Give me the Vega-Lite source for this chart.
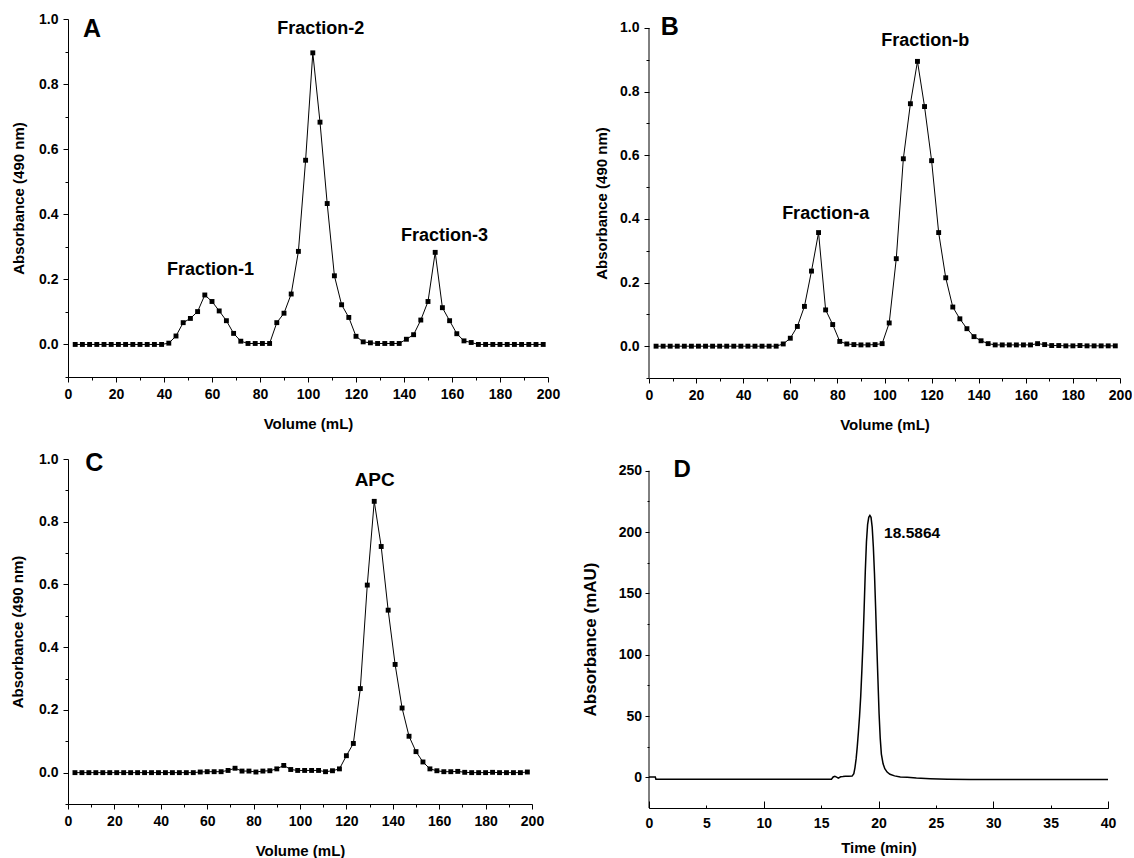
{
  "$schema": "https://vega.github.io/schema/vega-lite/v6.json",
  "background": "white",
  "padding": {"left": 10, "top": 12, "right": 0, "bottom": 0},
  "config": {
    "view": {"stroke": null},
    "font": "Liberation Sans",
    "text": {"font": "Liberation Sans", "fontWeight": "bold", "color": "black"},
    "axis": {
      "labelFont": "Liberation Sans", "labelFontWeight": "bold", "labelFontSize": 14, "labelColor": "black",
      "titleFont": "Liberation Sans", "titleFontWeight": "bold", "titleColor": "black",
      "domainColor": "black", "tickColor": "black", "grid": false, "domainWidth": 1, "tickWidth": 1,
      "labelFlush": false, "labelOverlap": false, "labelBound": false
    }
  },
  "bounds": "flush",
  "columns": 2,
  "spacing": {"row": 81, "column": 101},
  "concat": [
    {
      "width": 480, "height": 358,
      "resolve": {"axis": {"x": "independent", "y": "independent"}},
      "layer": [
        {
          "data": {"values": [
            {"vol":3,"abs":0},{"vol":6,"abs":0},{"vol":9,"abs":0},{"vol":12,"abs":0},{"vol":15,"abs":0},{"vol":18,"abs":0},{"vol":21,"abs":0},{"vol":24,"abs":0},{"vol":27,"abs":0},{"vol":30,"abs":0},{"vol":33,"abs":0},{"vol":36,"abs":0},{"vol":39,"abs":0},
            {"vol":42,"abs":0.004},{"vol":45,"abs":0.026},{"vol":48,"abs":0.067},{"vol":51,"abs":0.080},{"vol":54,"abs":0.101},{"vol":57,"abs":0.152},{"vol":60,"abs":0.132},{"vol":63,"abs":0.103},{"vol":66,"abs":0.073},{"vol":69,"abs":0.034},{"vol":72,"abs":0.010},{"vol":75,"abs":0.003},{"vol":78,"abs":0.003},{"vol":81,"abs":0.003},{"vol":84,"abs":0.003},
            {"vol":87,"abs":0.067},{"vol":90,"abs":0.096},{"vol":93,"abs":0.155},{"vol":96,"abs":0.286},{"vol":99,"abs":0.566},{"vol":102,"abs":0.896},{"vol":105,"abs":0.683},{"vol":108,"abs":0.433},{"vol":111,"abs":0.211},{"vol":114,"abs":0.122},{"vol":117,"abs":0.083},{"vol":120,"abs":0.025},{"vol":123,"abs":0.008},
            {"vol":126,"abs":0.005},{"vol":129,"abs":0.003},{"vol":132,"abs":0.003},{"vol":135,"abs":0.003},{"vol":138,"abs":0.003},{"vol":141,"abs":0.016},{"vol":144,"abs":0.030},{"vol":147,"abs":0.075},{"vol":150,"abs":0.132},{"vol":153,"abs":0.283},{"vol":156,"abs":0.113},{"vol":159,"abs":0.073},{"vol":162,"abs":0.033},{"vol":165,"abs":0.011},{"vol":168,"abs":0.006},
            {"vol":171,"abs":0},{"vol":174,"abs":0},{"vol":177,"abs":0},{"vol":180,"abs":0},{"vol":183,"abs":0},{"vol":186,"abs":0},{"vol":189,"abs":0},{"vol":192,"abs":0},{"vol":195,"abs":0},{"vol":198,"abs":0}
          ]},
          "mark": {"type": "line", "color": "black", "strokeWidth": 1, "point": {"shape": "square", "filled": true, "size": 24, "color": "black"}},
          "encoding": {
            "x": {"field": "vol", "type": "quantitative", "scale": {"domain": [0, 200], "nice": false, "zero": false},
                  "axis": {"orient": "bottom", "values": [0,20,40,60,80,100,120,140,160,180,200], "tickSize": 5, "labelPadding": 5, "title": "Volume (mL)", "titleFontSize": 15, "titlePadding": 15}},
            "y": {"field": "abs", "type": "quantitative", "scale": {"domain": [-0.1, 1.0], "nice": false, "zero": false},
                  "axis": {"orient": "left", "values": [0,0.2,0.4,0.6,0.8,1.0], "format": ".1f", "tickSize": 5, "labelPadding": 5, "title": "Absorbance (490 nm)", "titleFontSize": 15, "titlePadding": 12}}
          }
        },
        {
          "data": {"values": [{"x": 10, "y": 0.969, "t": "A"}]},
          "mark": {"type": "text", "fontSize": 25, "align": "center", "baseline": "middle"},
          "encoding": {
            "x": {"field": "x", "type": "quantitative", "scale": {"domain": [0, 200], "nice": false, "zero": false},
                  "axis": {"orient": "bottom", "values": [10,30,50,70,90,110,130,150,170,190], "tickSize": 3, "labels": false, "domain": false, "title": null}},
            "y": {"field": "y", "type": "quantitative", "scale": {"domain": [-0.1, 1.0], "nice": false, "zero": false},
                  "axis": {"orient": "left", "values": [-0.1,0.1,0.3,0.5,0.7,0.9], "tickSize": 3, "labels": false, "domain": false, "title": null}},
            "text": {"field": "t"}
          }
        },
        {
          "data": {"values": [{"x": 59.4, "y": 0.228, "t": "Fraction-1"}, {"x": 105.3, "y": 0.970, "t": "Fraction-2"}, {"x": 156.9, "y": 0.333, "t": "Fraction-3"}]},
          "mark": {"type": "text", "fontSize": 18, "align": "center", "baseline": "middle"},
          "encoding": {
            "x": {"field": "x", "type": "quantitative", "axis": null},
            "y": {"field": "y", "type": "quantitative", "axis": null},
            "text": {"field": "t"}
          }
        }
      ]
    },
    {
      "width": 471, "height": 359,
      "resolve": {"axis": {"x": "independent", "y": "independent"}},
      "layer": [
        {
          "data": {"values": [
            {"vol":3,"abs":0},{"vol":6,"abs":0},{"vol":9,"abs":0},{"vol":12,"abs":0},{"vol":15,"abs":0},{"vol":18,"abs":0},{"vol":21,"abs":0},{"vol":24,"abs":0},{"vol":27,"abs":0},{"vol":30,"abs":0},{"vol":33,"abs":0},{"vol":36,"abs":0},{"vol":39,"abs":0},{"vol":42,"abs":0},{"vol":45,"abs":0},{"vol":48,"abs":0},{"vol":51,"abs":0},{"vol":54,"abs":0},
            {"vol":57,"abs":0.007},{"vol":60,"abs":0.025},{"vol":63,"abs":0.062},{"vol":66,"abs":0.125},{"vol":69,"abs":0.236},{"vol":72,"abs":0.357},{"vol":75,"abs":0.114},{"vol":78,"abs":0.068},{"vol":81,"abs":0.015},{"vol":84,"abs":0.007},{"vol":87,"abs":0.005},{"vol":90,"abs":0.004},{"vol":93,"abs":0.004},{"vol":96,"abs":0.005},{"vol":99,"abs":0.008},
            {"vol":102,"abs":0.073},{"vol":105,"abs":0.275},{"vol":108,"abs":0.589},{"vol":111,"abs":0.762},{"vol":114,"abs":0.895},{"vol":117,"abs":0.753},{"vol":120,"abs":0.583},{"vol":123,"abs":0.357},{"vol":126,"abs":0.215},{"vol":129,"abs":0.123},{"vol":132,"abs":0.086},{"vol":135,"abs":0.055},{"vol":138,"abs":0.030},{"vol":141,"abs":0.017},{"vol":144,"abs":0.008},
            {"vol":147,"abs":0.004},{"vol":150,"abs":0.004},{"vol":153,"abs":0.004},{"vol":156,"abs":0.004},{"vol":159,"abs":0.004},{"vol":162,"abs":0.004},{"vol":165,"abs":0.008},{"vol":168,"abs":0.005},{"vol":171,"abs":0.002},{"vol":174,"abs":0.002},{"vol":177,"abs":0.001},{"vol":180,"abs":0.001},{"vol":183,"abs":0.002},{"vol":186,"abs":0.001},{"vol":189,"abs":0.001},{"vol":192,"abs":0.001},{"vol":195,"abs":0.001},{"vol":198,"abs":0.001}
          ]},
          "mark": {"type": "line", "color": "black", "strokeWidth": 1, "point": {"shape": "square", "filled": true, "size": 24, "color": "black"}},
          "encoding": {
            "x": {"field": "vol", "type": "quantitative", "scale": {"domain": [0, 200], "nice": false, "zero": false},
                  "axis": {"orient": "bottom", "values": [0,20,40,60,80,100,120,140,160,180,200], "tickSize": 5, "labelPadding": 5, "title": "Volume (mL)", "titleFontSize": 15, "titlePadding": 15}},
            "y": {"field": "abs", "type": "quantitative", "scale": {"domain": [-0.1, 1.0282], "nice": false, "zero": false},
                  "axis": {"orient": "left", "values": [0,0.2,0.4,0.6,0.8,1.0], "format": ".1f", "tickSize": 5, "labelPadding": 5, "domain": false, "title": "Absorbance (490 nm)", "titleFontSize": 15, "titlePadding": 10, "titleY": 184}}
          }
        },
        {
          "data": {"values": [{"x": 8.8, "y": 1.002, "t": "B"}]},
          "mark": {"type": "text", "fontSize": 25, "align": "center", "baseline": "middle"},
          "encoding": {
            "x": {"field": "x", "type": "quantitative", "scale": {"domain": [0, 200], "nice": false, "zero": false},
                  "axis": {"orient": "bottom", "values": [10,30,50,70,90,110,130,150,170,190], "tickSize": 3, "labels": false, "domain": false, "title": null}},
            "y": {"field": "y", "type": "quantitative", "scale": {"domain": [-0.1, 1.0282], "nice": false, "zero": false},
                  "axis": {"orient": "left", "values": [-0.1,0.1,0.3,0.5,0.7,0.9], "tickSize": 3, "labels": false, "domain": false, "title": null}},
            "text": {"field": "t"}
          }
        },
        {
          "data": {"values": [{"x": 75.0, "y": 0.414, "t": "Fraction-a"}, {"x": 117.3, "y": 0.959, "t": "Fraction-b"}]},
          "mark": {"type": "text", "fontSize": 18, "align": "center", "baseline": "middle"},
          "encoding": {
            "x": {"field": "x", "type": "quantitative", "axis": null},
            "y": {"field": "y", "type": "quantitative", "axis": null},
            "text": {"field": "t"}
          }
        },
        {
          "data": {"values": [{}]},
          "mark": {"type": "rule", "color": "black", "strokeWidth": 1},
          "encoding": {
            "x": {"datum": 0, "type": "quantitative", "axis": null},
            "y": {"datum": -0.1, "type": "quantitative", "axis": null},
            "y2": {"datum": 1.0}
          }
        }
      ]
    },
    {
      "width": 464, "height": 345,
      "resolve": {"axis": {"x": "independent", "y": "independent"}},
      "layer": [
        {
          "data": {"values": [
            {"vol":3,"abs":0},{"vol":6,"abs":0},{"vol":9,"abs":0},{"vol":12,"abs":0},{"vol":15,"abs":0},{"vol":18,"abs":0},{"vol":21,"abs":0},{"vol":24,"abs":0},{"vol":27,"abs":0},{"vol":30,"abs":0},{"vol":33,"abs":0},{"vol":36,"abs":0},{"vol":39,"abs":0},{"vol":42,"abs":0},{"vol":45,"abs":0},{"vol":48,"abs":0},{"vol":51,"abs":0},{"vol":54,"abs":0},
            {"vol":57,"abs":0.002},{"vol":60,"abs":0.003},{"vol":63,"abs":0.003},{"vol":66,"abs":0.003},{"vol":69,"abs":0.007},{"vol":72,"abs":0.014},{"vol":75,"abs":0.005},{"vol":78,"abs":0.005},{"vol":81,"abs":0.002},{"vol":84,"abs":0.005},{"vol":87,"abs":0.006},{"vol":90,"abs":0.012},{"vol":93,"abs":0.023},{"vol":96,"abs":0.010},
            {"vol":99,"abs":0.007},{"vol":102,"abs":0.007},{"vol":105,"abs":0.007},{"vol":108,"abs":0.007},{"vol":111,"abs":0.003},{"vol":114,"abs":0.006},{"vol":117,"abs":0.012},{"vol":120,"abs":0.054},{"vol":123,"abs":0.093},{"vol":126,"abs":0.268},{"vol":129,"abs":0.598},{"vol":132,"abs":0.865},{"vol":135,"abs":0.721},{"vol":138,"abs":0.518},
            {"vol":141,"abs":0.345},{"vol":144,"abs":0.206},{"vol":147,"abs":0.116},{"vol":150,"abs":0.067},{"vol":153,"abs":0.034},{"vol":156,"abs":0.012},{"vol":159,"abs":0.006},{"vol":162,"abs":0.003},{"vol":165,"abs":0.003},{"vol":168,"abs":0.004},{"vol":171,"abs":0.001},
            {"vol":174,"abs":0},{"vol":177,"abs":0},{"vol":180,"abs":0},{"vol":183,"abs":0.001},{"vol":186,"abs":0},{"vol":189,"abs":0},{"vol":192,"abs":0},{"vol":195,"abs":0},{"vol":198,"abs":0.002}
          ]},
          "mark": {"type": "line", "color": "black", "strokeWidth": 1, "point": {"shape": "square", "filled": true, "size": 24, "color": "black"}},
          "encoding": {
            "x": {"field": "vol", "type": "quantitative", "scale": {"domain": [0, 200], "nice": false, "zero": false},
                  "axis": {"orient": "bottom", "values": [0,20,40,60,80,100,120,140,160,180,200], "tickSize": 5, "labelPadding": 5, "title": "Volume (mL)", "titleFontSize": 15, "titlePadding": 15}},
            "y": {"field": "abs", "type": "quantitative", "scale": {"domain": [-0.1, 1.0], "nice": false, "zero": false},
                  "axis": {"orient": "left", "values": [0,0.2,0.4,0.6,0.8,1.0], "format": ".1f", "tickSize": 5, "labelPadding": 5, "title": "Absorbance (490 nm)", "titleFontSize": 15, "titlePadding": 13}}
          }
        },
        {
          "data": {"values": [{"x": 11.3, "y": 0.986, "t": "C"}]},
          "mark": {"type": "text", "fontSize": 25, "align": "center", "baseline": "middle"},
          "encoding": {
            "x": {"field": "x", "type": "quantitative", "scale": {"domain": [0, 200], "nice": false, "zero": false},
                  "axis": {"orient": "bottom", "values": [10,30,50,70,90,110,130,150,170,190], "tickSize": 3, "labels": false, "domain": false, "title": null}},
            "y": {"field": "y", "type": "quantitative", "scale": {"domain": [-0.1, 1.0], "nice": false, "zero": false},
                  "axis": {"orient": "left", "values": [-0.1,0.1,0.3,0.5,0.7,0.9], "tickSize": 3, "labels": false, "domain": false, "title": null}},
            "text": {"field": "t"}
          }
        },
        {
          "data": {"values": [{"x": 132.2, "y": 0.934, "t": "APC"}]},
          "mark": {"type": "text", "fontSize": 19, "align": "center", "baseline": "middle"},
          "encoding": {
            "x": {"field": "x", "type": "quantitative", "axis": null},
            "y": {"field": "y", "type": "quantitative", "axis": null},
            "text": {"field": "t"}
          }
        }
      ]
    },
    {
      "width": 459, "height": 349,
      "resolve": {"axis": {"x": "independent", "y": "independent"}},
      "layer": [
        {
          "data": {"values": [
            {"t":0,"mau":0.2},{"t":0.55,"mau":0.2},{"t":0.6,"mau":-1.6},{"t":15.9,"mau":-1.6},{"t":16.05,"mau":0.3},{"t":16.2,"mau":0.9},{"t":16.35,"mau":0.2},{"t":16.5,"mau":-0.6},{"t":16.7,"mau":0.4},{"t":16.9,"mau":0.6},{"t":17.1,"mau":0.9},{"t":17.4,"mau":0.8},{"t":17.7,"mau":1.0},
            {"t":17.85,"mau":3},{"t":17.95,"mau":8},{"t":18.05,"mau":15},{"t":18.15,"mau":25},{"t":18.25,"mau":37},{"t":18.35,"mau":50},{"t":18.45,"mau":66},{"t":18.55,"mau":87},{"t":18.65,"mau":110},{"t":18.75,"mau":138},{"t":18.85,"mau":168},{"t":18.95,"mau":192},{"t":19.05,"mau":206},{"t":19.15,"mau":212},{"t":19.25,"mau":213.5},
            {"t":19.35,"mau":212},{"t":19.45,"mau":204},{"t":19.55,"mau":188},{"t":19.65,"mau":166},{"t":19.75,"mau":138},{"t":19.85,"mau":108},{"t":19.95,"mau":80},{"t":20.05,"mau":52},{"t":20.15,"mau":32},{"t":20.25,"mau":19},{"t":20.4,"mau":11},{"t":20.55,"mau":7},{"t":20.75,"mau":4.3},{"t":21.0,"mau":2.5},{"t":21.4,"mau":1.2},{"t":21.9,"mau":0.3},
            {"t":22.5,"mau":0},{"t":23.3,"mau":-0.6},{"t":24.5,"mau":-1.1},{"t":26,"mau":-1.5},{"t":28,"mau":-1.7},{"t":40,"mau":-1.8}
          ]},
          "mark": {"type": "line", "color": "black", "strokeWidth": 1.5},
          "encoding": {
            "x": {"field": "t", "type": "quantitative", "scale": {"domain": [0, 40], "nice": false, "zero": false},
                  "axis": {"orient": "bottom", "values": [0,5,10,15,20,25,30,35,40], "tickSize": -3, "labelPadding": 11, "title": "Time (min)", "titleFontSize": 15, "titlePadding": 10}},
            "y": {"field": "mau", "type": "quantitative", "scale": {"domain": [-25, 259.56], "nice": false, "zero": false},
                  "axis": {"orient": "left", "values": [0,50,100,150,200,250], "tickSize": 4, "labelPadding": 3.5, "domain": false, "title": "Absorbance (mAU)", "titleFontSize": 17, "titlePadding": 19, "titleY": 180}}
          }
        },
        {
          "data": {"values": [{"x": 2.9, "y": 250.8, "t": "D"}]},
          "mark": {"type": "text", "fontSize": 24, "align": "center", "baseline": "middle"},
          "encoding": {
            "x": {"field": "x", "type": "quantitative", "scale": {"domain": [0, 40], "nice": false, "zero": false},
                  "axis": {"orient": "bottom", "values": [0,10,20,30,40], "tickSize": -7, "labels": false, "domain": false, "title": null}},
            "y": {"field": "y", "type": "quantitative", "scale": {"domain": [-25, 259.56], "nice": false, "zero": false},
                  "axis": {"orient": "left", "values": [25,75,125,175,225], "tickSize": 2, "labels": false, "domain": false, "title": null}},
            "text": {"field": "t"}
          }
        },
        {
          "data": {"values": [{"x": 22.93, "y": 199.4, "t": "18.5864"}]},
          "mark": {"type": "text", "fontSize": 15.5, "align": "center", "baseline": "middle"},
          "encoding": {
            "x": {"field": "x", "type": "quantitative", "axis": null},
            "y": {"field": "y", "type": "quantitative", "axis": null},
            "text": {"field": "t"}
          }
        },
        {
          "data": {"values": [{}]},
          "mark": {"type": "rule", "color": "black", "strokeWidth": 1},
          "encoding": {
            "x": {"datum": 0, "type": "quantitative", "axis": null},
            "y": {"datum": -25, "type": "quantitative", "axis": null},
            "y2": {"datum": 250}
          }
        }
      ]
    }
  ]
}
